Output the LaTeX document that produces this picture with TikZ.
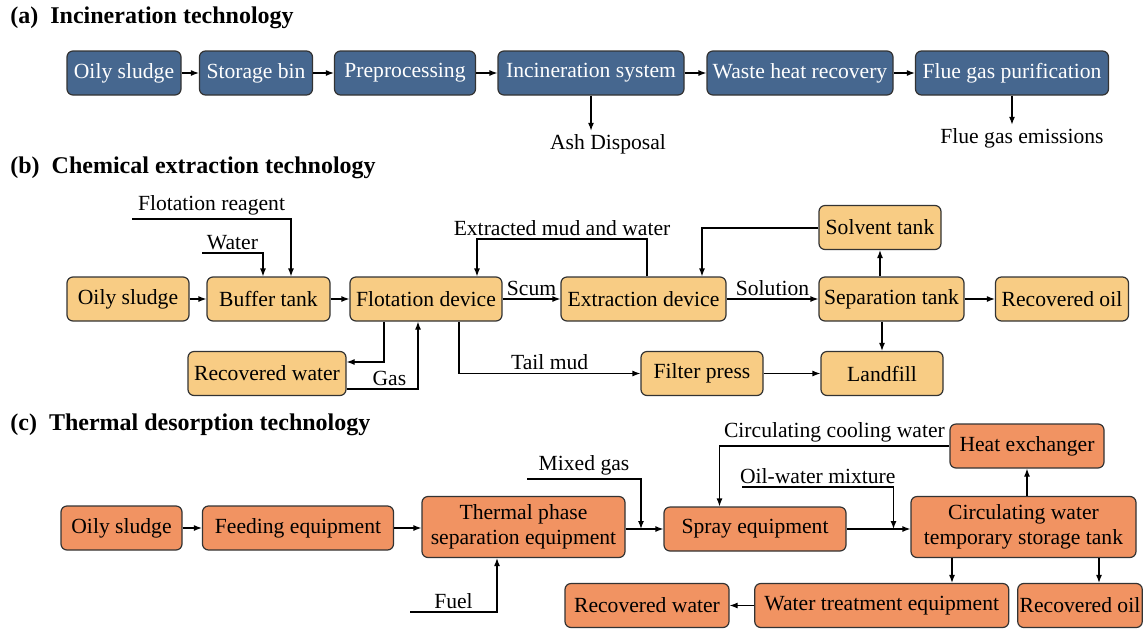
\documentclass[tikz,border=0pt]{standalone}
\usepackage{fontspec}
\setmainfont{Liberation Serif}
\usetikzlibrary{arrows.meta}
\definecolor{incblue}{HTML}{46678F}
\definecolor{extyellow}{HTML}{F8CC84}
\definecolor{thmorange}{HTML}{F19362}
\begin{document}
\begin{tikzpicture}[x=0.5pt,y=-0.5pt,
    box/.style={draw=black!80, line width=0.6pt, rounded corners=3pt, minimum height=22pt, inner sep=1pt, align=center, font=\fontsize{10.8}{12.5}\selectfont},
    blu/.style={box, fill=incblue, text=white},
    ylw/.style={box, fill=extyellow},
    org/.style={box, fill=thmorange},
    lbl/.style={inner sep=1.5pt, font=\fontsize{10.8}{12.5}\selectfont},
    hd/.style={anchor=west, inner sep=0pt, font=\fontsize{12}{14}\selectfont\bfseries},
    arr/.style={-{Latex[length=4pt,width=3pt]}, line width=0.6pt}]
    \useasboundingbox (0,0) rectangle (1147,628);

    \node[hd] (ha) at (10,18) {(a)\ \ Incineration technology};
    \node[blu, minimum width=57pt] (a1) at (124,73) {Oily sludge};
    \node[blu, minimum width=56.5pt] (a2) at (256,73) {Storage bin};
    \node[blu, minimum width=70.5pt] (a3) at (405,73) {Preprocessing};
    \node[blu, minimum width=93pt] (a4) at (591,73) {Incineration system};
    \node[blu, minimum width=93pt] (a5) at (800,73) {Waste heat recovery};
    \node[blu, minimum width=96.5pt] (a6) at (1012,73) {Flue gas purification};
    \node[lbl] (ash) at (608,144) {Ash Disposal};
    \node[lbl] (fge) at (1022,138) {Flue gas emissions};
    \draw[arr] (a1) -- (a2);
    \draw[arr] (a2) -- (a3);
    \draw[arr] (a3) -- (a4);
    \draw[arr] (a4) -- (a5);
    \draw[arr] (a5) -- (a6);
    \draw[arr] (a4.south) -- (a4.south |- ash.north);
    \draw[arr] (a6.south) -- (a6.south |- fge.north);

    \node[hd] (hb) at (10,168) {(b)\ \ Chemical extraction technology};
    \node[ylw, minimum width=61pt] (b1) at (128,299) {Oily sludge};
    \node[ylw, minimum width=61.5pt] (b2) at (268.5,299) {Buffer tank};
    \node[ylw, minimum width=76pt] (b3) at (426,299) {Flotation device};
    \node[ylw, minimum width=82.5pt] (b4) at (643.5,299) {Extraction device};
    \node[ylw, minimum width=72.5pt] (b5) at (891.5,299) {Separation tank};
    \node[ylw, minimum width=66.5pt] (b6) at (1062,299) {Recovered oil};
    \node[ylw, minimum width=61pt] (b7) at (880,227.5) {Solvent tank};
    \node[ylw, minimum width=61pt] (b8) at (702,373.5) {Filter press};
    \node[ylw, minimum width=61pt] (b9) at (882,373.5) {Landfill};
    \node[ylw, minimum width=79pt] (b10) at (267,373.5) {Recovered water};
    \coordinate (w1) at (202,253);
    \coordinate (w2) at (263,253);
    \coordinate (f1) at (132,219);
    \coordinate (f2) at (291,219);
    \coordinate (e1) at (647,239);
    \coordinate (e2) at (477,239);
    \coordinate (s1) at (702,228);
    \coordinate (t1) at (459,373.5);
    \coordinate (r1) at (384,362);
    \coordinate (g1) at (418,389);
    \draw[arr] (b1) -- (b2);
    \draw[arr] (b2) -- (b3);
    \draw[arr] (b3) -- node[lbl, above] {Scum} (b4);
    \draw[arr] (b4) -- node[lbl, above] {Solution} (b5);
    \draw[arr] (b5) -- (b6);
    \draw[arr] (b5.north -| b7) -- (b7.south);
    \draw[arr] (b5.south -| b9) -- (b9.north);
    \draw[arr] (b8) -- (b9);
    \draw[arr] (w1) -- node[lbl, above] {Water} (w2) -- (b2.north -| w2);
    \draw[arr] (f1) -- node[lbl, above] {Flotation reagent} (f2) -- (b2.north -| f2);
    \draw[arr] (b4.north -| e1) -- (e1) -- node[lbl, above] {Extracted mud and water} (e2) -- (b3.north -| e2);
    \draw[arr] (b7.west |- s1) -- (s1) -- (b4.north -| s1);
    \draw[arr] (b3.south -| t1) -- (t1) -- node[lbl, above] {Tail mud} (b8.west);
    \draw[arr] (b3.south -| r1) -- (r1) -- (b10.east |- r1);
    \draw[arr] (b10.east |- g1) -- node[lbl, above, pos=0.6] {Gas} (g1) -- (b3.south -| g1);

    \node[hd] (hc) at (10,425) {(c)\ \ Thermal desorption technology};
    \node[org, minimum width=60.5pt] (c1) at (121.5,528) {Oily sludge};
    \node[org, minimum width=95.5pt] (c2) at (298,528) {Feeding equipment};
    \node[org, minimum width=101.5pt, minimum height=30.5pt] (c3) at (523.5,527) {Thermal phase\\separation equipment};
    \node[org, minimum width=91pt] (c4) at (755,529) {Spray equipment};
    \node[org, minimum width=112.5pt, minimum height=30.5pt] (c5) at (1023.5,527) {Circulating water\\temporary storage tank};
    \node[org, minimum width=77pt] (c6) at (1027,446) {Heat exchanger};
    \node[org, minimum width=82pt] (c7) at (647,605.5) {Recovered water};
    \node[org, minimum width=127pt] (c8) at (881.75,605.5) {Water treatment equipment};
    \node[org, minimum width=62pt] (c9) at (1080,605.5) {Recovered oil};
    \coordinate (m1) at (527,479);
    \coordinate (m2) at (641,479);
    \coordinate (o1) at (742,487);
    \coordinate (o2) at (893.5,487);
    \coordinate (h1) at (719.5,446);
    \coordinate (u1) at (410,612);
    \coordinate (u2) at (497,612);
    \coordinate (d1) at (952,0);
    \coordinate (d2) at (1099,0);
    \draw[arr] (c1) -- (c2);
    \draw[arr] (c2.east) -- (c3.west |- c2.east);
    \draw[arr] (c3.east |- c4.west) -- (c4.west);
    \draw[arr] (c4.east) -- (c5.west |- c4.east);
    \draw[arr] (m1) -- node[lbl, above] {Mixed gas} (m2) -- (m2 |- c4.west);
    \draw[arr] (o1) -- node[lbl, above] {Oil-water mixture} (o2) -- (o2 |- c4.east);
    \draw[arr] (c5.north -| c6) -- (c6.south);
    \draw[arr] (c6.west) -- node[lbl, above] {Circulating cooling water} (h1) -- (c4.north -| h1);
    \draw[arr] (u1) -- node[lbl, above] {Fuel} (u2) -- (c3.south -| u2);
    \draw[arr] (c5.south -| d1) -- (c8.north -| d1);
    \draw[arr] (c5.south -| d2) -- (c9.north -| d2);
    \draw[arr] (c8) -- (c7);
\end{tikzpicture}
\end{document}
